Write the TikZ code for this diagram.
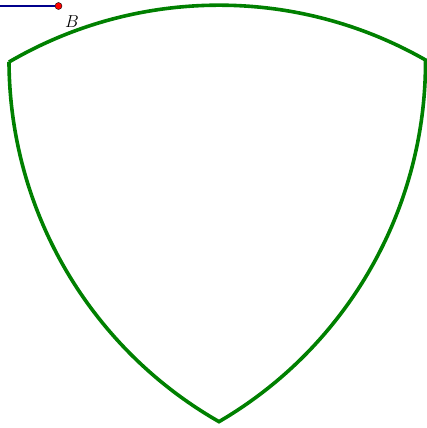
\documentclass[tikz,border=0pt]{standalone}
\usetikzlibrary{calc}
\definecolor{arcgreen}{RGB}{0,128,0}
\definecolor{segblue}{RGB}{0,0,140}
\tikzset{
    arco/.style={draw=arcgreen, line width=3.6pt, line join=miter},
    segmento/.style={draw=segblue, line width=1.4pt},
    punto/.style={circle, fill=red, draw=black, line width=0.4pt, minimum size=7pt, inner sep=0pt},
}

\begin{document}
\begin{tikzpicture}[x=1pt, y=1pt]
\useasboundingbox (0,0) rectangle (427,-428);
% vertices of the triangle
\coordinate (A) at (9,-62);
\coordinate (C) at (425.5,-60);
\coordinate (D) at ($(A)!1!-60:(C)$);
% Reuleaux triangle
\draw[arco] (A) arc[start angle=120.28, end angle=60.28, radius=416.5]
    arc[start angle=0.28, end angle=-59.72, radius=416.5]
    arc[start angle=240.28, end angle=180.28, radius=416.5] -- cycle;
% segment and point B
\coordinate (P) at (0,-6);
\node[punto] (B) at (58.5,-6) {};
\draw[segmento] (P) -- (B);
\node (lblB) at (72,-22) {\LARGE$B$};
\end{tikzpicture}
\end{document}
